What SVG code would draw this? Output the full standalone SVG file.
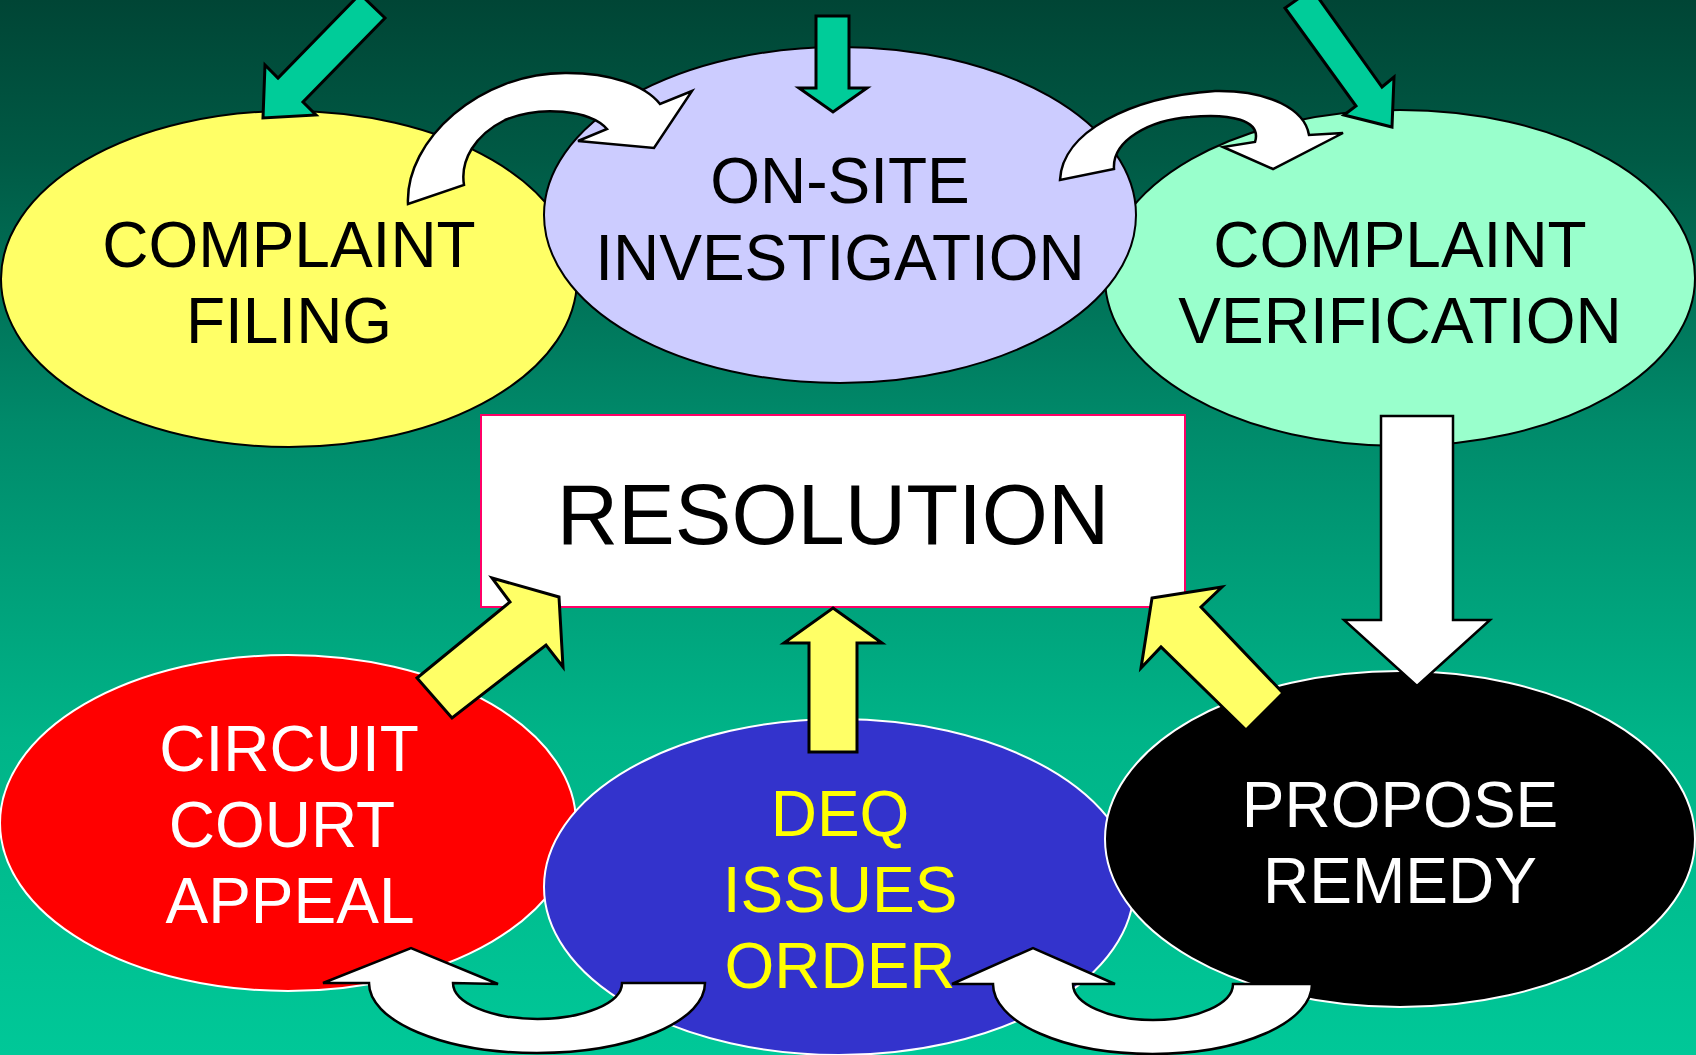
<svg xmlns="http://www.w3.org/2000/svg" width="1696" height="1055" viewBox="0 0 1696 1055">
<defs>
<linearGradient id="bg" x1="0" y1="0" x2="0" y2="1">
<stop offset="0" stop-color="#004535"/>
<stop offset="0.15" stop-color="#005a45"/>
<stop offset="0.4" stop-color="#008a6a"/>
<stop offset="0.7" stop-color="#00b488"/>
<stop offset="1" stop-color="#00c898"/>
</linearGradient>
<style>
.top{stroke:#000;stroke-width:2}
.bot{stroke:#fff;stroke-width:2}
.t{font-family:"Liberation Sans",Arial,sans-serif;font-size:64px;text-anchor:middle}
.teal{fill:#00cc99;stroke:#000;stroke-width:3;stroke-linejoin:miter}
.white{fill:#fff;stroke:#000;stroke-width:2.5}
.yel{fill:#ffff66;stroke:#000;stroke-width:3}
</style>
</defs>
<rect width="1696" height="1055" fill="url(#bg)"/>
<g id="complaint-filing">
<ellipse class="top" cx="289" cy="279" rx="288" ry="168" fill="#ffff66"/>
<text class="t" x="289" y="267" fill="#000">COMPLAINT</text>
<text class="t" x="289" y="343" fill="#000">FILING</text>
</g>
<g id="complaint-verification">
<ellipse class="top" cx="1400" cy="278" rx="295" ry="168" fill="#99ffcc"/>
<text class="t" x="1400" y="267" fill="#000">COMPLAINT</text>
<text class="t" x="1400" y="343" fill="#000">VERIFICATION</text>
</g>
<g id="on-site-investigation">
<ellipse class="top" cx="840" cy="215" rx="296" ry="168" fill="#ccccff"/>
<text class="t" x="840" y="203" fill="#000">ON-SITE</text>
<text class="t" x="840" y="280" fill="#000">INVESTIGATION</text>
</g>
<g id="circuit-court-appeal">
<ellipse class="bot" cx="288" cy="823" rx="288" ry="168" fill="#ff0000"/>
<text class="t" x="289" y="771" fill="#fff">CIRCUIT</text>
<text class="t" x="282" y="847" fill="#fff">COURT</text>
<text class="t" x="290" y="923" fill="#fff">APPEAL</text>
</g>
<g id="deq-issues-order">
<ellipse class="bot" cx="839" cy="887" rx="295" ry="168" fill="#3333cc"/>
<text class="t" x="840" y="836" fill="#ffff00">DEQ</text>
<text class="t" x="840" y="912" fill="#ffff00">ISSUES</text>
<text class="t" x="840" y="988" fill="#ffff00">ORDER</text>
</g>
<g id="propose-remedy">
<ellipse class="bot" cx="1400" cy="839" rx="295" ry="168" fill="#000"/>
<text class="t" x="1400" y="827" fill="#fff">PROPOSE</text>
<text class="t" x="1400" y="903" fill="#fff">REMEDY</text>
</g>
<g id="resolution">
<rect x="481" y="415" width="704" height="192" fill="#fff" stroke="#ff0066" stroke-width="2"/>
<text x="833" y="544" font-family="'Liberation Sans',Arial,sans-serif" font-size="85" text-anchor="middle" fill="#000">RESOLUTION</text>
</g>
<g id="connectors">
<polygon class="teal" points="360,-6 385,18 303,102 316,115 263,118 265,65 278,78"/>
<polygon class="teal" points="816,16 849,16 849,88 867,88 833,112 799,88 816,88"/>
<polygon class="teal" points="1312,-11 1382,87 1394,77 1392,127 1344,115 1356,106 1285,8"/>
<path class="white" d="M408,204 C405,140 480,72 567,73 C610,73 645,85 660,104 L692,91 L654,148 L578,141 L607,129 C590,110 540,105 505,120 C475,135 460,160 464,185 Z"/>
<path class="white" d="M1060,180 C1062,132 1130,97 1215,91 C1270,90 1305,110 1309,135 L1343,133 L1273,169 L1223,147 L1255,142 C1262,120 1230,113 1190,117 C1150,120 1112,140 1114,169 Z"/>
<path class="white" d="M705,983 A168,70 0 0 1 369,983 L323,983 L411,948 L498,984 L453,983 A84.5,36 0 0 0 622,983 Z"/>
<path class="white" d="M1312,984 A159.5,70 0 0 1 993,984 L952,984 L1033,948 L1115,984 L1073,984 A80,36 0 0 0 1233,984 Z"/>
<polygon class="white" points="1381,416 1453,416 1453,620 1490,620 1417,686 1344,620 1381,620"/>
<polygon class="yel" points="492,578 559,597 563,667 546,645 452,718 417,678 510,602"/>
<polygon class="yel" points="833,608 882,643 857,643 857,752 809,752 809,643 784,643"/>
<polygon class="yel" points="1152,598 1222,587 1201,607 1283,693 1246,730 1161,647 1141,668"/>
</g>
</svg>
